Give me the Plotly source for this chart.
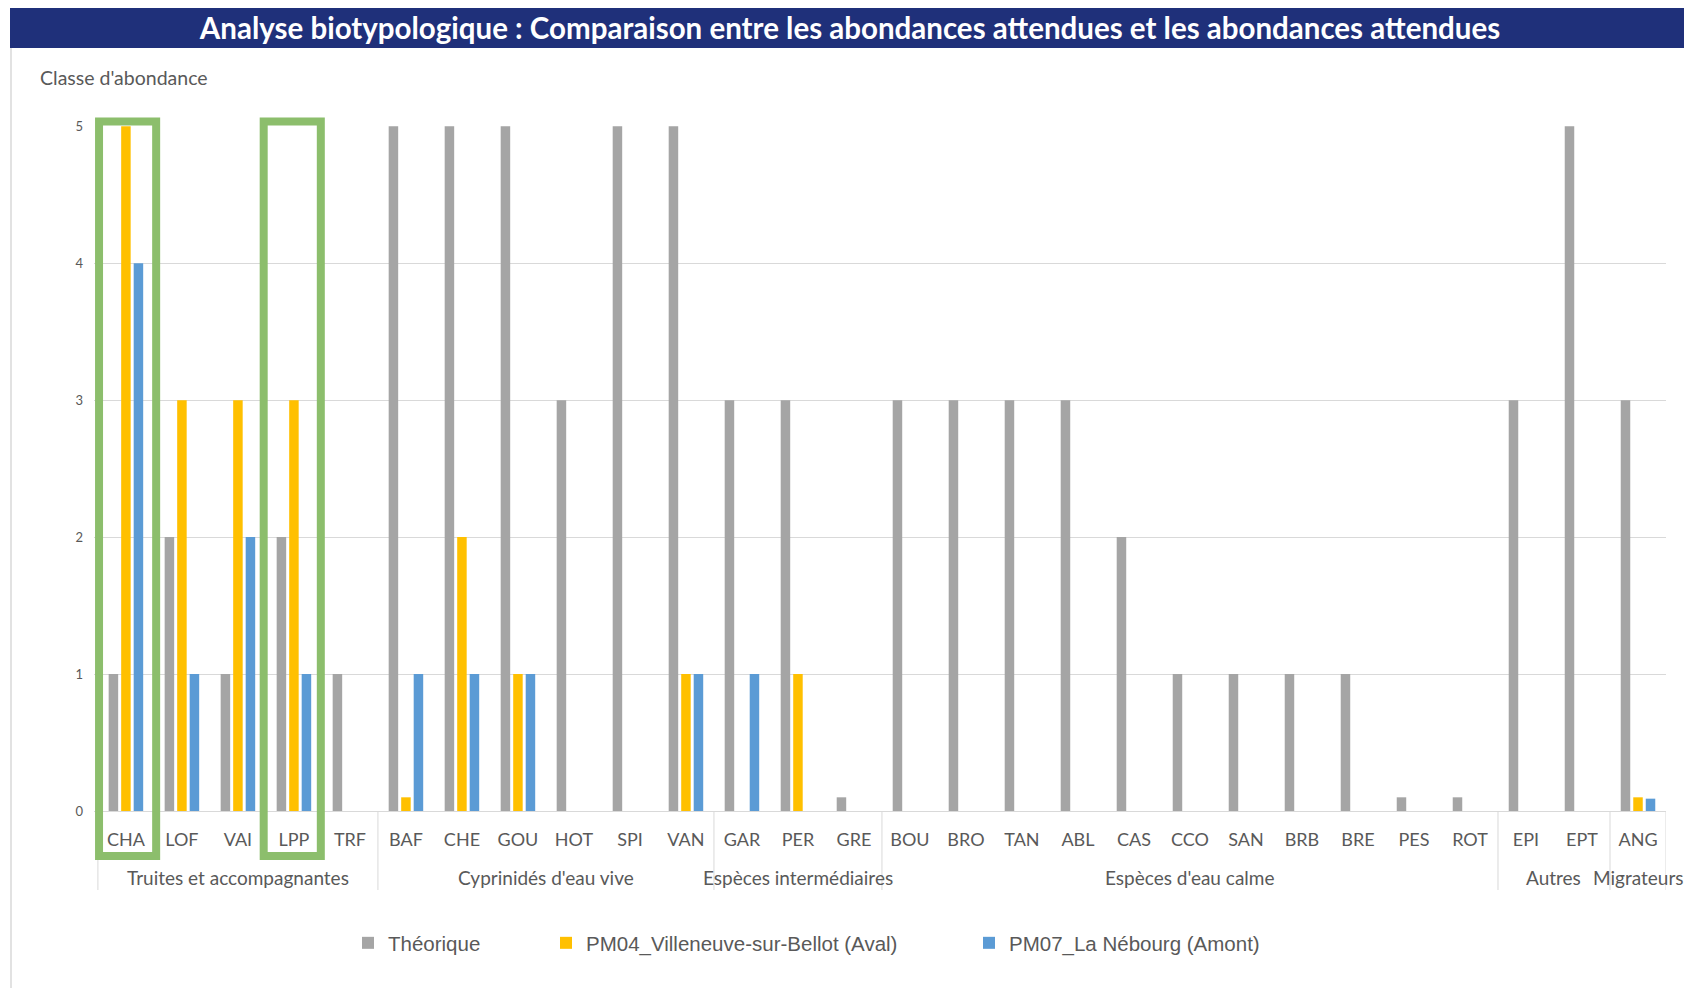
import plotly.graph_objects as go

# species codes in chart order, with their ecological group
species = ["CHA", "LOF", "VAI", "LPP", "TRF",
           "BAF", "CHE", "GOU", "HOT", "SPI", "VAN",
           "GAR", "PER", "GRE",
           "BOU", "BRO", "TAN", "ABL", "CAS", "CCO", "SAN", "BRB", "BRE", "PES", "ROT",
           "EPI", "EPT",
           "ANG"]
group_names = ["Truites et accompagnantes", "Cyprinidés d'eau vive", "Espèces intermédiaires",
               "Espèces d'eau calme", "Autres", "Migrateurs"]
group_sizes = [5, 6, 3, 11, 2, 1]

theorique = [1, 2, 1, 2, 1,
             5, 5, 5, 3, 5, 5,
             3, 3, 0.1,
             3, 3, 3, 3, 2, 1, 1, 1, 1, 0.1, 0.1,
             3, 5,
             3]
pm04 = [5, 3, 3, 3, 0,
        0.1, 2, 1, 0, 0, 1,
        0, 1, 0,
        0, 0, 0, 0, 0, 0, 0, 0, 0, 0, 0,
        0, 0,
        0.1]
pm07 = [4, 1, 2, 1, 0,
        1, 1, 1, 0, 0, 1,
        1, 0, 0,
        0, 0, 0, 0, 0, 0, 0, 0, 0, 0, 0,
        0, 0,
        0.09]

series_names = ["Théorique", "PM04_Villeneuve-sur-Bellot (Aval)", "PM07_La Nébourg (Amont)"]
series_colors = ["#A5A5A5", "#FFC000", "#5B9BD5"]

# species highlighted with a green frame
highlighted = ["CHA", "LPP"]

# page has an 8px body margin, positions below are in screen pixels
OFF = 8
FW, FH = 1684, 980
PL, PR, PT, PB = 94, 1666, 126, 811
PW, PH = PR - PL, PB - PT


def px(x):
    return (x - PL) / PW


def py(y):
    return (PB - y) / PH


grey_txt = "#595959"
fig = go.Figure()
legend_ids = ["legend", "legend2", "legend3"]
for name, vals, col, lg in zip(series_names, [theorique, pm04, pm07], series_colors, legend_ids):
    fig.add_trace(go.Bar(
        x=species, y=vals, name=name,
        marker=dict(color=col, line=dict(width=0)),
        legend=lg,
    ))

shapes = []
annotations = []
# title banner
shapes.append(dict(type="rect", xref="paper", yref="paper",
                   x0=px(10), x1=px(1692), y0=py(48), y1=py(8),
                   fillcolor="#1F307A", line=dict(width=0), layer="below"))
# chart area border
for xb in [11, 1689]:
    shapes.append(dict(type="line", xref="paper", yref="paper",
                       x0=px(xb), x1=px(xb), y0=py(48), y1=py(988),
                       line=dict(color="#D9D9D9", width=1.5)))

# group labels and dividers under the category axis
start = 0
bounds = [-0.5]
for name, n in zip(group_names, group_sizes):
    annotations.append(dict(text=name, xref="x", yref="paper",
                            x=start + (n - 1) / 2, y=py(877), showarrow=False,
                            xanchor="center", yanchor="middle",
                            font=dict(family="Lato", size=19, color=grey_txt)))
    start += n
    bounds.append(start - 0.5)
for b in bounds:
    shapes.append(dict(type="line", xref="x", yref="paper",
                       x0=b, x1=b, y0=py(811), y1=py(890),
                       line=dict(color="#D9D9D9", width=1)))

# green frames around highlighted species
for sp in highlighted:
    i = species.index(sp)
    off = -0.48 if i == 0 else -0.54
    shapes.append(dict(type="rect", xref="x", yref="paper",
                       x0=i + off, x1=i + off + 1.02, y0=py(856), y1=py(121.5),
                       line=dict(color="#8CBE6C", width=8), fillcolor="rgba(0,0,0,0)"))

annotations.append(dict(text="Classe d'abondance", xref="paper", yref="paper",
                        x=px(38), y=py(78), xanchor="left", yanchor="middle", showarrow=False,
                        font=dict(family="Lato", size=19.5, color=grey_txt)))

legend_x = [348, 546, 969]
legends = {}
for lg, lx in zip(legend_ids, legend_x):
    legends[lg] = dict(x=px(lx), xanchor="left", y=py(943), yanchor="middle",
                       orientation="h", bgcolor="rgba(0,0,0,0)",
                       font=dict(family="Liberation Sans", size=20.5, color=grey_txt))

fig.update_layout(
    width=FW, height=FH,
    margin=dict(l=PL - OFF, r=FW + OFF - PR, t=PT - OFF, b=FH + OFF - PB),
    paper_bgcolor="white", plot_bgcolor="white",
    barmode="group", bargap=0.33, bargroupgap=0.24,
    showlegend=True,
    title=dict(text="<b>Analyse biotypologique : Comparaison entre les abondances attendues et les abondances attendues</b>",
               x=(850 - OFF) / FW, xanchor="center", xref="container",
               y=1 - (29 - OFF) / FH, yanchor="middle", yref="container",
               font=dict(family="Lato", size=29.5, color="white")),
    shapes=shapes,
    annotations=annotations,
    **legends,
)

fig.update_xaxes(
    type="category", range=[-0.57, 27.5],
    showgrid=False, showline=True, linecolor="#D9D9D9", linewidth=1,
    ticks="", ticklabelstandoff=12,
    tickfont=dict(family="Lato", size=18, color=grey_txt),
)
fig.update_yaxes(
    range=[0, 5.002], dtick=1, tick0=0,
    showgrid=True, gridcolor="#D9D9D9", gridwidth=1,
    zeroline=False, showline=False, ticks="",
    ticklabelstandoff=10,
    tickfont=dict(family="Lato", size=13, color=grey_txt),
)

fig.write_html("out.html")
